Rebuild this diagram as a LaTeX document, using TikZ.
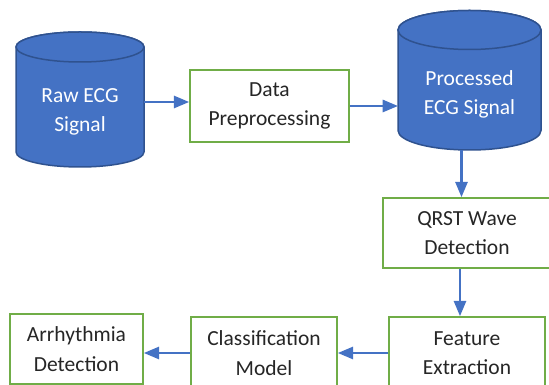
\documentclass[tikz,border=0pt]{standalone}
\usepackage{fontspec}
\setmainfont{Carlito}
\usepackage{xcolor}
\usetikzlibrary{arrows,positioning}
\definecolor{dbblue}{HTML}{4472C4}
\definecolor{dbedge}{HTML}{2F528F}
\definecolor{stepgreen}{HTML}{70AD47}

\begin{document}
\begin{tikzpicture}[
    x=1pt, y=1pt,
    font=\fontsize{21.5pt}{29.5pt}\selectfont,
    dbshape/.style={draw=dbedge, line width=1.5pt, fill=dbblue},
    dbtext/.style={text=white, align=center, inner sep=0pt},
    block/.style={rectangle, draw=stepgreen, line width=2pt, fill=white, text=black!85, align=center, minimum height=72pt},
    arrow/.style={draw=dbblue, line width=2.6pt, ->, >=triangle 45}
]
    \useasboundingbox (0,0) rectangle (549,385);

    % raw signal store
    \coordinate (rawc) at (80,273);
    \filldraw[dbshape] ([shift={(-64pt,65pt)}]rawc) -- ([shift={(-64pt,-40pt)}]rawc)
        arc[start angle=180, end angle=360, x radius=64pt, y radius=15pt]
        -- ([shift={(64pt,65pt)}]rawc)
        arc[start angle=0, end angle=180, x radius=64pt, y radius=15pt] -- cycle;
    \draw[dbshape] ([yshift=65pt]rawc) ellipse[x radius=64pt, y radius=15pt];
    \node[dbtext, minimum width=128pt] (raw) at (rawc) {Raw ECG\\Signal};

    % processed signal store
    \coordinate (procc) at (469.5,290.5);
    \filldraw[dbshape] ([shift={(-71.5pt,64.5pt)}]procc) -- ([shift={(-71.5pt,-36pt)}]procc)
        arc[start angle=180, end angle=360, x radius=71.5pt, y radius=19.5pt]
        -- ([shift={(71.5pt,64.5pt)}]procc)
        arc[start angle=0, end angle=180, x radius=71.5pt, y radius=19.5pt] -- cycle;
    \draw[dbshape] ([yshift=64.5pt]procc) ellipse[x radius=71.5pt, y radius=19.5pt];
    \node[dbtext, minimum width=143pt, minimum height=111pt] (proc) at (procc) {Processed\\ECG Signal};

    % processing steps
    \node[block, minimum width=159pt] (prep) at (269.5,279) {Data\\Preprocessing};
    \node[block, minimum width=168pt, minimum height=70pt] (qrst) at (467,152) {QRST Wave\\Detection};
    \node[block, minimum width=156pt, below=47pt of qrst] (feat) {Feature\\Extraction};
    \node[block, minimum width=146pt, left=50pt of feat] (clf) {Classification\\Model};
    \node[block, minimum width=133pt, minimum height=70pt, left=46pt of clf, yshift=4pt] (arrh) {Arrhythmia\\Detection};

    \draw[arrow] ([yshift=10pt]raw.east) -- ([yshift=10pt]raw.east -| prep.west);
    \draw[arrow] (prep.east) -- (prep.east -| proc.west);
    \draw[arrow] ([xshift=-8pt]proc.south) -- ([xshift=-8pt]proc.south |- qrst.north);
    \draw[arrow] ([xshift=-7pt]qrst.south) -- ([xshift=-7pt]qrst.south |- feat.north);
    \draw[arrow] (feat.west) -- (feat.west -| clf.east);
    \draw[arrow] (clf.west) -- (clf.west -| arrh.east);
\end{tikzpicture}
\end{document}
